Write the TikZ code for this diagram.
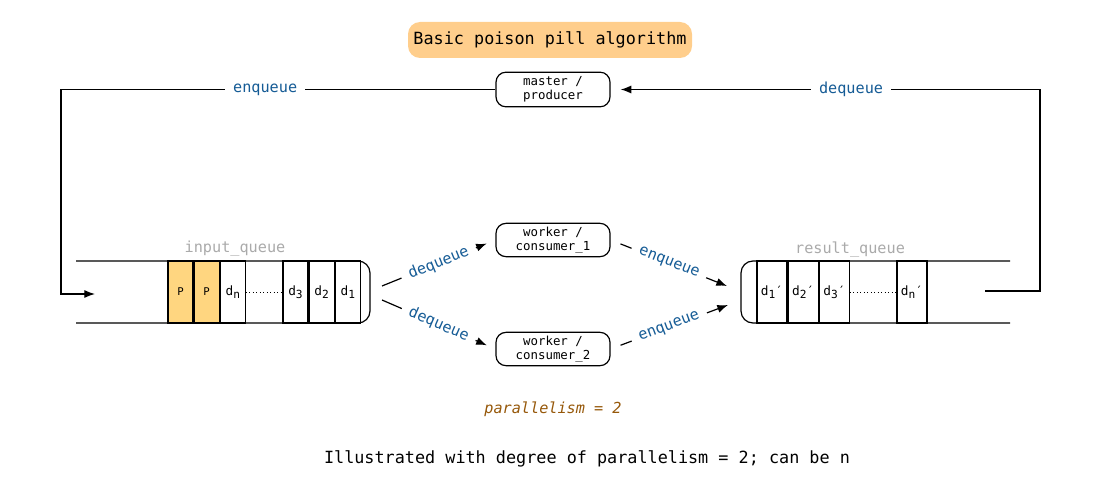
\documentclass[tikz,border=0pt]{standalone}
\usepackage{fontspec}
\setmainfont{DejaVu Sans Mono}
\usetikzlibrary{arrows.meta}
\definecolor{titleorange}{RGB}{255,206,140}
\definecolor{pillyellow}{RGB}{255,214,128}
\definecolor{opblue}{RGB}{22,92,150}
\definecolor{qgray}{RGB}{170,170,170}
\definecolor{parbrown}{RGB}{150,88,10}
\newcommand{\qsub}[1]{\raisebox{-0.45ex}{\fontsize{8.4}{9}\selectfont#1}}
\begin{document}
\begin{tikzpicture}[x=0.75pt,y=-0.75pt,line width=0.9pt,
        proc/.style={draw,rounded corners=7.5pt,minimum width=85.5pt,minimum height=25pt,align=center,inner sep=1pt,font=\fontsize{9.3}{10.5}\selectfont},
        cell/.style={draw,minimum width=18.75pt,minimum height=46.5pt,inner sep=0pt,font=\fontsize{9.6}{10}\selectfont},
        wcell/.style={cell,minimum width=22.5pt},
        op/.style={fill=white,text=opblue,inner xsep=6pt,inner ysep=2pt,font=\fontsize{11.4}{12}\selectfont},
        qname/.style={text=qgray,font=\fontsize{11.4}{12}\selectfont},
        flow/.style={-{Latex[length=8pt,width=6pt]}}]
        \useasboundingbox (0,0) rectangle (1099,499);
        \node[fill=titleorange,rounded corners=9pt,minimum width=213pt,minimum height=27pt,font=\fontsize{12.6}{14}\selectfont] (title) at (550,40) {Basic poison pill algorithm};
        \node[proc,minimum height=26pt] (master) at (553,89.5) {master /\\producer};
        \node[proc] (w1) at (553,240) {worker /\\consumer\_1};
        \node[proc] (w2) at (553,349) {worker /\\consumer\_2};
        \node[cell,fill=pillyellow,font=\fontsize{8}{9}\selectfont] (p1) at (180.5,292) {P};
        \node[cell,fill=pillyellow,font=\fontsize{8}{9}\selectfont,anchor=west] (p2) at (p1.east) {P};
        \node[cell,anchor=west] (dn) at (p2.east) {d\qsub{n}};
        \node[cell] (d3) at (295.5,292) {d\qsub{3}};
        \node[cell,anchor=west] (d2) at (d3.east) {d\qsub{2}};
        \node[cell,anchor=west] (d1) at (d2.east) {d\qsub{1}};
        \draw[dotted,line width=0.6pt] (dn.east) -- (d3.west);
        \draw[rounded corners=9pt] (76,261) -- (370,261) -- (370,323) -- (76,323);
        \node[qname] (inqname) at (235,249) {input\_queue};
        \node[wcell] (r1) at (772,292) {d\qsub{1}′};
        \node[wcell,anchor=west] (r2) at (r1.east) {d\qsub{2}′};
        \node[wcell,anchor=west] (r3) at (r2.east) {d\qsub{3}′};
        \node[wcell] (rn) at (912,292) {d\qsub{n}′};
        \draw[dotted,line width=0.6pt] (r3.east) -- (rn.west);
        \draw[rounded corners=9pt] (1010,261) -- (741,261) -- (741,323) -- (1010,323);
        \node[qname] (resqname) at (850,249) {result\_queue};
        \coordinate (inqin) at (95,294);
        \coordinate (inqtop) at (382,286);
        \coordinate (inqbot) at (382,300);
        \coordinate (resqtop) at (727,286);
        \coordinate (resqbot) at (728,305);
        \coordinate (resqout) at (985,291);
        \draw[flow] (master.west) -- node[op,pos=0.53] {enqueue} (61,89.5) |- (inqin);
        \draw[flow,shorten >=7.5pt] (resqout) -- (1040,291) |- node[op,pos=0.72] {dequeue} (master.east);
        \draw[flow,shorten >=7pt] (inqtop) -- node[op,sloped] {dequeue} (w1.west);
        \draw[flow,shorten >=7pt] (inqbot) -- node[op,sloped] {dequeue} (w2.west);
        \draw[flow,shorten <=8pt] (w1.east) -- node[op,sloped] {enqueue} (resqtop);
        \draw[flow,shorten <=8pt] (w2.east) -- node[op,sloped] {enqueue} (resqbot);
        \node[text=parbrown,font=\itshape\fontsize{11.4}{12}\selectfont] (par) at (553,409) {parallelism = 2};
        \node[font=\fontsize{12.6}{14}\selectfont] (note) at (587,459) {Illustrated with degree of parallelism = 2; can be n};
\end{tikzpicture}
\end{document}
